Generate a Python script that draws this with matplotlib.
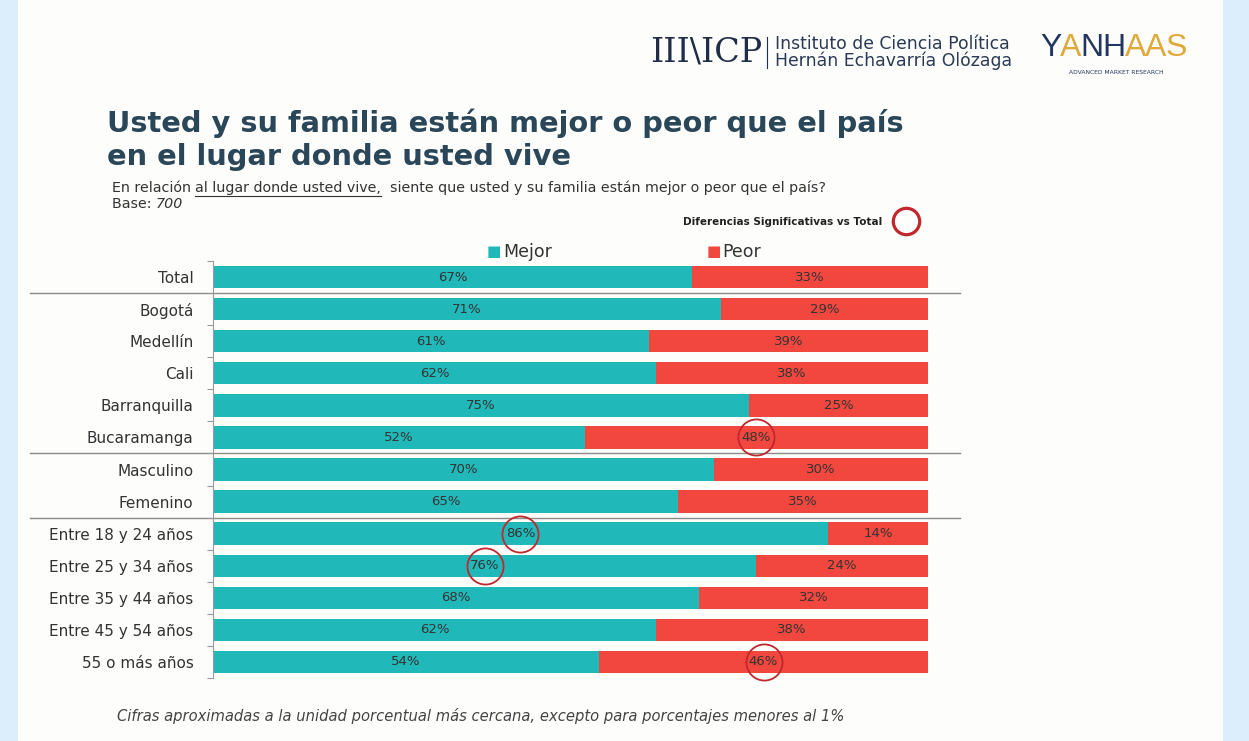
import matplotlib.pyplot as plt
from matplotlib.patches import Rectangle

# Data
categorias = ['Total', 'Bogotá', 'Medellín', 'Cali', 'Barranquilla', 'Bucaramanga',
              'Masculino', 'Femenino', 'Entre 18 y 24 años', 'Entre 25 y 34 años',
              'Entre 35 y 44 años', 'Entre 45 y 54 años', '55 o más años']
mejor = [67, 71, 61, 62, 75, 52, 70, 65, 86, 76, 68, 62, 54]
peor = [33, 29, 39, 38, 25, 48, 30, 35, 14, 24, 32, 38, 46]
# significant differences vs total: (row, series)
significativos = [(5, 'peor'), (8, 'mejor'), (9, 'mejor'), (12, 'peor')]
separadores = [0.5, 5.5, 7.5]

W, H = 1249, 741
TEAL = '#21b8b9'
RED = '#f2473f'
TXT = '#333333'
TITLE = '#2a4659'
CIRCLE = '#c1272d'
FONT = 'DejaVu Sans'

fig = plt.figure(figsize=(W / 100, H / 100), dpi=100)
fig.patch.set_facecolor('#dceefb')
fig.patches.append(Rectangle((18 / W, 0), (1223 - 18) / W, 1, transform=fig.transFigure,
                             facecolor='#fdfdfc', edgecolor='none', zorder=-5))


def fx(px):
    return px / W


def fy(py):
    return 1 - py / H


# Axes for the bars
top, bottom = 261, 678
ax = fig.add_axes([fx(213), fy(bottom), fx(928) - fx(213), (bottom - top) / H])
ax.set_zorder(2)
ax.set_facecolor('none')
ypos = list(range(len(categorias)))
ax.barh(ypos, mejor, height=0.7, color=TEAL, zorder=2)
ax.barh(ypos, peor, left=mejor, height=0.7, color=RED, zorder=2)
ax.set_xlim(0, 100)
ax.set_ylim(len(categorias) - 0.5, -0.5)

for i in ypos:
    ax.text(mejor[i] / 2, i, f'{mejor[i]}%', ha='center', va='center', fontsize=9.5,
            color=TXT, zorder=3, family=FONT)
    ax.text(mejor[i] + peor[i] / 2, i, f'{peor[i]}%', ha='center', va='center', fontsize=9.5,
            color=TXT, zorder=3, family=FONT)

for fila, serie in significativos:
    xc = mejor[fila] / 2 if serie == 'mejor' else mejor[fila] + peor[fila] / 2
    ax.plot(xc, fila, marker='o', ms=26, mfc='none', mec=CIRCLE, mew=1.3, zorder=4,
            clip_on=False)

for s in separadores:
    ax.plot([-0.256, 1.045], [s, s], transform=ax.get_yaxis_transform(), color='#8a8a8a',
            lw=1, clip_on=False, zorder=1)

for sp in ['top', 'right', 'bottom']:
    ax.spines[sp].set_visible(False)
ax.spines['left'].set_color('#9a9a9a')
ax.spines['left'].set_linewidth(0.8)
ax.set_xticks([])
ax.set_yticks(ypos)
ax.set_yticklabels(categorias, fontsize=11, color=TXT, family=FONT)
ax.tick_params(axis='y', length=0, pad=14)
ax.set_yticks([i - 0.5 for i in range(len(categorias) + 1)], minor=True)
ax.tick_params(axis='y', which='minor', length=4, color='#9a9a9a', width=0.8)

# Legend
fig.text(fx(494), fy(252), '■', fontsize=11, color=TEAL, ha='center', va='center')
fig.text(fx(503), fy(252), 'Mejor', fontsize=12.5, color=TXT, va='center', family=FONT)
fig.text(fx(714), fy(252), '■', fontsize=11, color=RED, ha='center', va='center')
fig.text(fx(722), fy(252), 'Peor', fontsize=12.5, color=TXT, va='center', family=FONT)

# Significance legend
fig.text(fx(882), fy(222), 'Diferencias Significativas vs Total', fontsize=7.5,
         fontweight='bold', color='#222222', ha='right', va='center', family=FONT)
fig.lines.append(plt.Line2D([fx(906)], [fy(221)], transform=fig.transFigure, marker='o',
                            ms=19, mfc='none', mec=CIRCLE, mew=2.3))

# Title
fig.text(fx(107), fy(123), 'Usted y su familia están mejor o peor que el país', fontsize=20.8,
         fontweight='bold', color=TITLE, va='center', family=FONT)
fig.text(fx(107), fy(157), 'en el lugar donde usted vive', fontsize=20.8,
         fontweight='bold', color=TITLE, va='center', family=FONT)

# Subtitle with underlined fragment
renderer = fig.canvas.get_renderer()
partes = [('En relación ', False), ('al lugar donde usted vive,', True),
          ('  siente que usted y su familia están mejor o peor que el país?', False)]
x0 = 112
for txt, sub in partes:
    t = fig.text(fx(x0), fy(188), txt, fontsize=10.3, color=TXT, va='center', family=FONT)
    bb = t.get_window_extent(renderer)
    if sub:
        fig.lines.append(plt.Line2D([fx(x0), fx(x0 + bb.width)], [fy(196), fy(196)],
                                    transform=fig.transFigure, color=TXT, lw=0.8))
    x0 += bb.width
t = fig.text(fx(112), fy(204), 'Base: ', fontsize=10.3, color=TXT, va='center', family=FONT)
bb = t.get_window_extent(renderer)
fig.text(fx(112 + bb.width), fy(204), '700', fontsize=10.3, color=TXT, va='center',
         style='italic', family=FONT)

# Footnote
fig.text(fx(117), fy(716), 'Cifras aproximadas a la unidad porcentual más cercana, excepto '
         'para porcentajes menores al 1%', fontsize=10.6, style='italic', color='#444444',
         va='center', family=FONT)

# Logos
fig.text(fx(650), fy(52), 'III\\ICP', fontsize=24, color='#1f2d48', va='center',
         family='DejaVu Serif')
fig.lines.append(plt.Line2D([fx(767), fx(767)], [fy(37), fy(68)], transform=fig.transFigure,
                            color='#1f2d48', lw=0.8))
fig.text(fx(775), fy(44), 'Instituto de Ciencia Política', fontsize=12.4, color='#2a3a55',
         va='center', family=FONT)
fig.text(fx(775), fy(61), 'Hernán Echavarría Olózaga', fontsize=12.4, color='#2a3a55',
         va='center', family=FONT)

NAVY = '#23365f'
GOLD = '#e0a93a'
xl = 1040
for letra, col in zip('YANHAAS', [NAVY, GOLD, NAVY, NAVY, GOLD, GOLD, GOLD]):
    t = fig.text(fx(xl), fy(48), letra, fontsize=23, color=col, va='center',
                 family='Liberation Sans')
    xl += t.get_window_extent(renderer).width - 1
fig.text(fx(1116), fy(72), 'ADVANCED MARKET RESEARCH', fontsize=4.3, color=NAVY,
         ha='center', va='center', family=FONT)

fig.savefig('out.png', dpi=100, facecolor=fig.get_facecolor())
